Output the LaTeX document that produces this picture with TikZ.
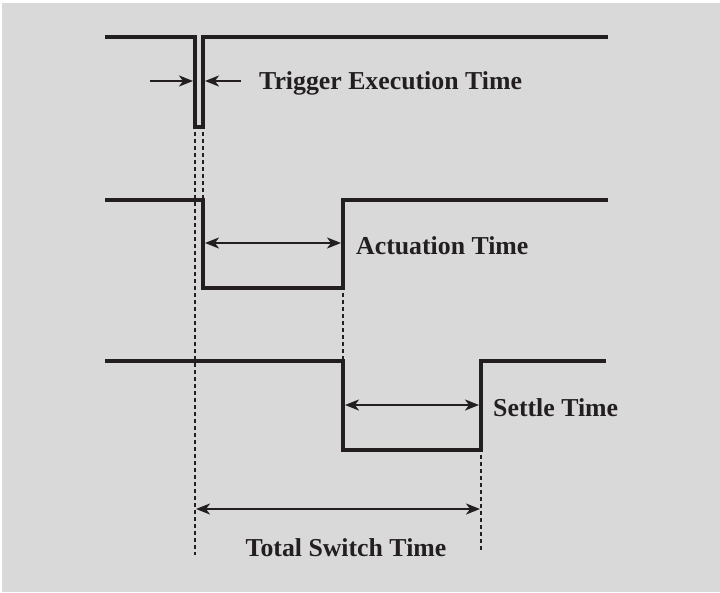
\documentclass[tikz,border=0pt]{standalone}
\usepackage{fontspec}
\setmainfont{Liberation Serif}
\usetikzlibrary{arrows.meta}
\definecolor{bg}{HTML}{D9D9D9}
\definecolor{ink}{HTML}{231F20}
\tikzset{
  tip/.tip={Stealth[length=14pt,width=11pt,inset=4pt]},
  signal/.style={draw=ink,line width=3.6pt,line join=miter},
  dim/.style={draw=ink,line width=1.8pt,{tip}-{tip}},
  dimin/.style={draw=ink,line width=1.8pt,-{tip}},
  guide/.style={draw=ink,line width=1.8pt,dash pattern=on 4pt off 3pt},
  lbl/.style={text=ink,font=\bfseries\fontsize{25.8}{28}\selectfont,inner sep=0pt}
}
\begin{document}
\begin{tikzpicture}[x=1pt,y=-1pt]
\useasboundingbox (0,0) rectangle (720,592);
\fill[white] (0,0) rectangle (720,592);
\fill[bg] (2,3) rectangle (720,592);
% signal 1
\coordinate (a0) at (105,37);
\coordinate (a1) at (195,37);
\coordinate (a2) at (195,127);
\coordinate (a3) at (203,127);
\coordinate (a4) at (203,37);
\coordinate (a5) at (608,37);
\draw[signal] (a0) -- (a1) -- (a2) -- (a3) -- (a4) -- (a5);
% signal 2
\coordinate (b0) at (105,200);
\coordinate (b1) at (203,200);
\coordinate (b2) at (203,288);
\coordinate (b3) at (343,288);
\coordinate (b4) at (343,200);
\coordinate (b5) at (608,200);
\draw[signal] (b0) -- (b1) -- (b2) -- (b3) -- (b4) -- (b5);
% signal 3
\coordinate (c0) at (105,361);
\coordinate (c1) at (343,361);
\coordinate (c2) at (343,450);
\coordinate (c3) at (481,450);
\coordinate (c4) at (481,361);
\coordinate (c5) at (606,361);
\draw[signal] (c0) -- (c1) -- (c2) -- (c3) -- (c4) -- (c5);
% guides
\coordinate (g1) at (195,555);
\coordinate (g3) at (481,552);
\draw[guide] (195,132) -- (g1);
\draw[guide] (203,132) -- (b1);
\draw[guide] (343,293) -- (c1);
\draw[guide] (481,455) -- (g3);
% trigger arrows
\coordinate (t0) at (150,81);
\coordinate (t1) at (193,81);
\coordinate (t2) at (241,81);
\coordinate (t3) at (205,81);
\draw[dimin] (t0) -- (t1);
\draw[dimin] (t2) -- (t3);
\node[lbl,anchor=west] (trig) at (259,83) {Trigger Execution Time};
% actuation
\coordinate (u0) at (205,243);
\coordinate (u1) at (341,243);
\draw[dim] (u0) -- (u1);
\node[lbl,anchor=west] (act) at (356,246) {Actuation Time};
% settle
\coordinate (s0) at (345,405);
\coordinate (s1) at (479,405);
\draw[dim] (s0) -- (s1);
\node[lbl,anchor=west] (set) at (493,408) {Settle Time};
% total
\coordinate (w0) at (196,509);
\coordinate (w1) at (480,509);
\draw[dim] (w0) -- (w1);
\node[lbl] (tot) at (346,548) {Total Switch Time};
\end{tikzpicture}
\end{document}
